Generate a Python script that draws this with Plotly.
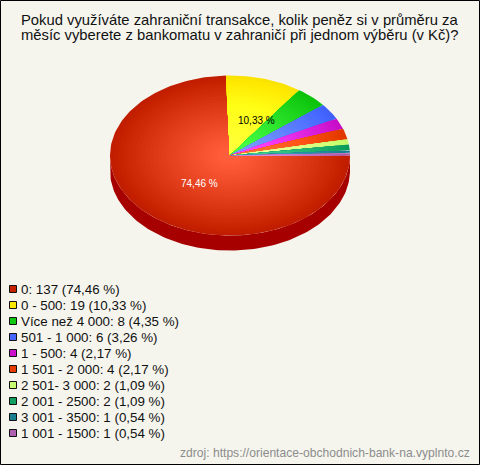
import plotly.graph_objects as go
import numpy as np

categories = ["0", "0 - 500", "Více než 4 000", "501 - 1 000", "1 - 500", "1 501 - 2 000",
              "2 501- 3 000", "2 001 - 2500", "3 001 - 3500", "1 001 - 1500"]
counts = [137, 19, 8, 6, 4, 4, 2, 2, 1, 1]
percents = ["74,46", "10,33", "4,35", "3,26", "2,17", "2,17", "1,09", "1,09", "0,54", "0,54"]
colors = ["#c62200", "#ffe800", "#10c810", "#4466ff", "#cc12cc", "#e63c00",
          "#c8ff70", "#0fa060", "#1a8090", "#b060b0"]
title_lines = ["Pokud využíváte zahraniční transakce, kolik peněz si v průměru za",
               "měsíc vyberete z bankomatu v zahraničí při jednom výběru (v Kč)?"]
source = "zdroj: https://orientace-obchodnich-bank-na.vyplnto.cz"

W, H = 480, 465
CX, CY, RX, RY, DEPTH = 230, 155.5, 120, 80, 15
LEVELS = 28


def mix(hex_c, amount):
    r, g, b = [int(hex_c[i:i + 2], 16) for i in (1, 3, 5)]
    vals = [max(0, min(255, int(v + amount))) for v in (r, g, b)]
    return f"rgb({vals[0]},{vals[1]},{vals[2]})"


fig = go.Figure()
total = sum(counts)
edges = np.cumsum([0] + counts) / total * 2 * np.pi

# side wall (front half of the first slice)
t = np.linspace(0, np.pi, 120)
wx = np.r_[CX + RX * np.cos(t), (CX + RX * np.cos(t))[::-1]]
wy = np.r_[CY + RY * np.sin(t), (CY + DEPTH + RY * np.sin(t))[::-1]]
fig.add_trace(go.Scatter(x=wx, y=wy, fill="toself", mode="lines", line=dict(width=0),
                         fillcolor="#a60000", hoverinfo="skip", showlegend=False))

# top face: each slice built from concentric wedges to give the radial glow
for i, c in enumerate(colors):
    a0, a1 = edges[i], edges[i + 1]
    n = max(6, int((a1 - a0) * 40))
    t = np.linspace(a0, a1, n)
    for lv in range(LEVELS):
        f = 1 - lv / LEVELS
        x = np.r_[CX, CX + f * RX * np.cos(t), CX]
        y = np.r_[CY, CY + f * RY * np.sin(t), CY]
        amount = 70 * (1 - f) ** 0.9 - 5
        fig.add_trace(go.Scatter(x=x, y=y, fill="toself", mode="lines", line=dict(width=0),
                                 fillcolor=mix(c, amount), hoverinfo="skip", showlegend=False))

# legend rows
rows = [289 + 16 * i for i in range(len(categories))]
labels = [f"{c}: {v} ({p} %)" for c, v, p in zip(categories, counts, percents)]
fig.add_trace(go.Scatter(x=[13] * len(rows), y=rows, mode="markers",
                         marker=dict(symbol="square", size=7, color=colors, line=dict(color="#111111", width=1)),
                         hoverinfo="skip", showlegend=False))
for y, lab in zip(rows, labels):
    fig.add_annotation(x=18.5, y=y, text=lab, showarrow=False, xanchor="left", yanchor="middle",
                       font=dict(family="Liberation Sans", size=13.35, color="#111111"))

# title
for y, line in zip([20, 35], title_lines):
    fig.add_annotation(x=239.5, y=y, text=line, showarrow=False, xanchor="center", yanchor="middle",
                       font=dict(family="Liberation Sans", size=14.8, color="#111111"))

# value labels
fig.add_annotation(x=256.5, y=120, text=f"{percents[1]} %", showarrow=False,
                   font=dict(family="Liberation Sans", size=10, color="#000000"))
fig.add_annotation(x=199.5, y=183.5, text=f"{percents[0]} %", showarrow=False,
                   font=dict(family="Liberation Sans", size=10, color="#ffffff"))
fig.add_annotation(x=471.5, y=453, text=source, showarrow=False, xanchor="right", yanchor="middle",
                   font=dict(family="Liberation Sans", size=12.1, color="#8c8c8c"))

fig.add_shape(type="rect", x0=0.5, y0=0.5, x1=W - 0.5, y1=H - 0.5, line=dict(color="#000000", width=1))

fig.update_layout(width=W, height=H, margin=dict(l=0, r=0, t=0, b=0),
                  paper_bgcolor="#f5f5ee", plot_bgcolor="#f5f5ee", showlegend=False,
                  xaxis=dict(range=[0, W], visible=False, fixedrange=True),
                  yaxis=dict(range=[H, 0], visible=False, fixedrange=True))
fig.write_html("out.html", config={"displayModeBar": False},
               post_script="document.body.style.margin='0';document.body.style.overflow='hidden';")
